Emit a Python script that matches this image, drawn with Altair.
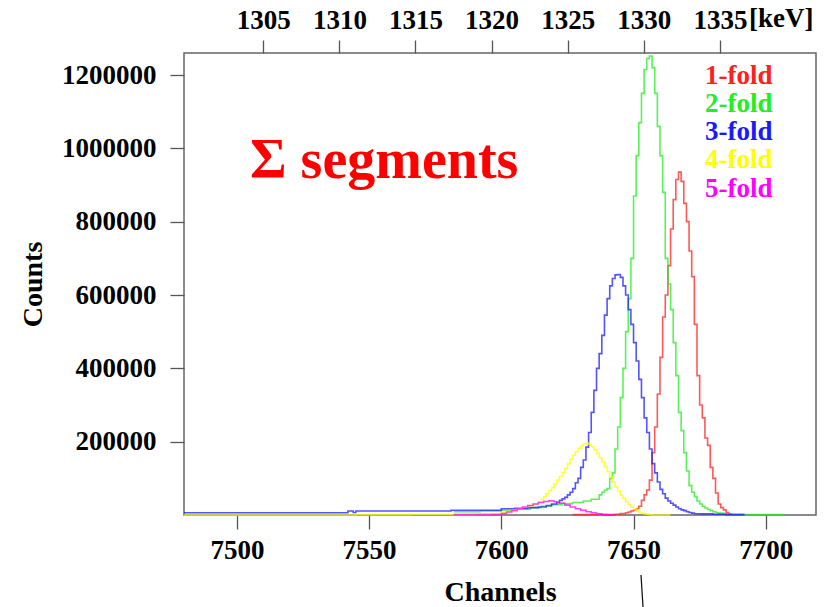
import altair as alt
import pandas as pd

# Summed-segment spectra, counts per channel for each fold multiplicity.
# Each series is listed as bin-start channel -> counts, with a new entry
# only where the count changes; the last entry closes the histogram.
ch_1 = [7627, 7643, 7645, 7647, 7648, 7649, 7650, 7651, 7652, 7653, 7654, 7655,
        7656, 7657, 7658, 7659, 7660, 7661, 7662, 7663, 7664, 7665, 7666, 7667,
        7668, 7669, 7670, 7671, 7672, 7673, 7674, 7675, 7676, 7677, 7678, 7679,
        7680, 7681, 7682, 7683, 7684, 7685, 7686, 7687]
n_1 = [1000, 2000, 4000, 6000, 8000, 11000, 14000, 17000, 24000, 40000, 55000, 68000,
       95000, 170000, 240000, 330000, 430000, 540000, 600000, 680000, 780000, 860000,
       915000, 935000, 910000, 850000, 800000, 720000, 650000, 520000, 380000, 300000,
       265000, 210000, 190000, 130000, 100000, 60000, 30000, 20000, 14000, 7000, 3000,
       3000]

ch_2 = [7582, 7592, 7600, 7606, 7611, 7615, 7619, 7623, 7627, 7631, 7634, 7637,
        7638, 7639, 7640, 7641, 7642, 7643, 7644, 7645, 7646, 7647, 7648, 7649,
        7650, 7651, 7652, 7653, 7654, 7655, 7656, 7657, 7658, 7659, 7660, 7661,
        7662, 7663, 7664, 7665, 7666, 7667, 7668, 7669, 7670, 7671, 7672, 7673,
        7674, 7675, 7676, 7677, 7678, 7679, 7680, 7681, 7682, 7684, 7687, 7691,
        7707]
n_2 = [9000, 11000, 13000, 16000, 20000, 24000, 28000, 31000, 34000, 38000, 43000,
       55000, 62000, 68000, 72000, 100000, 115000, 180000, 240000, 320000, 400000,
       500000, 590000, 700000, 870000, 980000, 1070000, 1150000, 1215000, 1245000,
       1252000, 1220000, 1150000, 1060000, 980000, 880000, 700000, 630000, 560000,
       470000, 380000, 280000, 230000, 170000, 120000, 80000, 62000, 50000, 38000,
       30000, 24000, 19000, 15000, 12000, 9000, 7000, 5000, 3500, 2000, 1000, 1000]

ch_3 = [7480, 7542, 7544, 7545, 7581, 7600, 7605, 7610, 7614, 7617, 7619, 7621,
        7622, 7623, 7624, 7625, 7626, 7627, 7628, 7629, 7630, 7631, 7632, 7633,
        7634, 7635, 7636, 7637, 7638, 7639, 7640, 7641, 7642, 7643, 7644, 7645,
        7646, 7647, 7648, 7649, 7650, 7651, 7652, 7653, 7654, 7655, 7656, 7657,
        7658, 7659, 7660, 7661, 7662, 7663, 7664, 7665, 7666, 7667, 7668, 7669,
        7670, 7671, 7672, 7673, 7675, 7680, 7685, 7692]
n_3 = [6000, 11000, 7000, 11000, 13000, 17000, 18000, 20000, 22000, 26000, 30000,
       34000, 40000, 44000, 48000, 55000, 62000, 72000, 88000, 100000, 130000, 150000,
       185000, 225000, 280000, 340000, 400000, 440000, 490000, 545000, 590000, 625000,
       645000, 655000, 656000, 648000, 625000, 600000, 560000, 520000, 470000, 420000,
       370000, 320000, 265000, 225000, 180000, 140000, 115000, 90000, 70000, 58000,
       46000, 38000, 32000, 27000, 22000, 17000, 14000, 12000, 9000, 7000, 5000, 3500,
       3000, 2000, 1000, 1000]

ch_4 = [7480, 7545, 7566, 7590, 7596, 7600, 7602, 7604, 7606, 7608, 7610, 7612,
        7614, 7615, 7616, 7617, 7618, 7619, 7620, 7621, 7622, 7623, 7624, 7625,
        7626, 7627, 7628, 7629, 7630, 7631, 7632, 7633, 7634, 7635, 7636, 7637,
        7638, 7639, 7640, 7641, 7642, 7643, 7644, 7645, 7646, 7647, 7648, 7649,
        7650, 7651, 7652, 7653, 7654, 7655, 7656, 7657, 7664]
n_4 = [0, 1000, 1500, 2500, 4000, 7000, 10000, 13000, 17000, 21000, 25000, 30000,
       36000, 42000, 50000, 58000, 66000, 75000, 85000, 95000, 105000, 116000, 127000,
       140000, 152000, 163000, 173000, 182000, 189000, 194000, 196000, 193000, 186000,
       178000, 168000, 157000, 145000, 132000, 118000, 104000, 90000, 77000, 65000,
       54000, 45000, 36000, 28000, 21000, 16000, 12000, 8000, 5000, 3000, 1500, 500,
       0, 0]

ch_5 = [7582, 7600, 7602, 7604, 7606, 7608, 7610, 7612, 7614, 7616, 7618, 7619,
        7620, 7621, 7622, 7624, 7626, 7628, 7630, 7632, 7634, 7636, 7638, 7640, 7643]
n_5 = [1500, 4000, 8000, 12000, 17000, 22000, 26000, 30000, 34000, 37000, 39000,
       38000, 36000, 34000, 32000, 27000, 22000, 17000, 13000, 9000, 6000, 3000,
       1000, 0, 0]

folds = ["1-fold", "2-fold", "3-fold", "4-fold", "5-fold"]
fold_colors = ["#ff2020", "#22ee22", "#1a1aff", "#ffff00", "#ff00ff"]

# Channel window and energy calibration used for the top axis
ch_range = [7480, 7719]
chan_ticks = [7500, 7550, 7600, 7650, 7700]
kev_ticks = [1305, 1310, 1315, 1320, 1325, 1330, 1335]
cal_ch0, cal_kev0, ch_per_kev = 7653.9, 1330.0, 5.757
count_ticks = [200000, 400000, 600000, 800000, 1000000, 1200000]

series = [(ch_1, n_1), (ch_2, n_2), (ch_3, n_3), (ch_4, n_4), (ch_5, n_5)]
frames = []
for fold, (chs, ns) in zip(folds, series):
    frames.append(pd.DataFrame({"channel": chs, "counts": ns, "fold": fold}))
spectra = pd.concat(frames, ignore_index=True)

kev_domain = [cal_kev0 + (c - cal_ch0) / ch_per_kev for c in ch_range]

FONT = "Liberation Serif"
W, H = 632, 462

color = alt.Color("fold:N", scale=alt.Scale(domain=folds, range=fold_colors), legend=None)

lines = alt.Chart(spectra).mark_line(
    interpolate="step-after", strokeWidth=1.6, opacity=0.75
).encode(
    x=alt.X("channel:Q",
            scale=alt.Scale(domain=ch_range, nice=False, zero=False),
            axis=alt.Axis(values=chan_ticks, format="d", title="Channels",
                          titleY=77, titleBaseline="middle", labelPadding=8)),
    y=alt.Y("counts:Q",
            scale=alt.Scale(domain=[0, 1260000], nice=False),
            axis=alt.Axis(values=count_ticks, format="d", title="Counts",
                          titleX=-151, titleY=H / 2, titleBaseline="middle",
                          labelPadding=14)),
    color=color,
    detail="fold:N",
)

# Energy axis along the top
kev_scale = alt.Scale(domain=kev_domain, nice=False, zero=False)
top_axis_df = pd.DataFrame({"kev": kev_ticks})
top_axis = alt.Chart(top_axis_df).mark_point(opacity=0).encode(
    x=alt.X("kev:Q", scale=kev_scale,
            axis=alt.Axis(orient="top", values=kev_ticks, format="d", title=None,
                          labelPadding=6, tickSize=13)),
)
unit_df = pd.DataFrame({"kev": [kev_ticks[-1]], "txt": ["[keV]"]})
unit_text = alt.Chart(unit_df).mark_text(
    align="left", baseline="alphabetic", dx=29, font=FONT, fontWeight="bold",
    fontSize=27, color="black"
).encode(
    x=alt.X("kev:Q", scale=kev_scale, axis=None),
    y=alt.value(-26),
    text="txt:N",
)

# Multiplicity labels in the upper right corner
legend_df = pd.DataFrame({"fold": folds, "row": list(range(len(folds)))})
legend_text = alt.Chart(legend_df).mark_text(
    align="left", baseline="alphabetic", font=FONT, fontWeight="bold", fontSize=27
).encode(
    x=alt.value(521),
    y=alt.Y("row:O", scale=alt.Scale(type="point", range=[31, 143.5], padding=0),
            axis=None),
    text="fold:N",
    color=color,
)

title_df = pd.DataFrame({"txt": ["\u03a3 segments"]})
title_text = alt.Chart(title_df).mark_text(
    align="left", baseline="alphabetic", font=FONT, fontWeight="bold", fontSize=56,
    color="#ff0000"
).encode(x=alt.value(66), y=alt.value(125), text="txt:N")

pen_mark = alt.Chart(pd.DataFrame({"k": [0]})).mark_rule(
    color="#111111", strokeWidth=1.3
).encode(x=alt.value(457), x2=alt.value(459), y=alt.value(522), y2=alt.value(554))

chart = alt.layer(
    lines, top_axis, unit_text, legend_text, title_text, pen_mark
).resolve_scale(
    x="independent", y="independent"
).properties(
    width=W, height=H,
    background="white",
    autosize=alt.AutoSizeParams(type="none"),
    padding={"left": 184, "top": 53, "right": 16, "bottom": 92},
).configure_view(
    stroke="#666666", strokeWidth=1.5
).configure_axis(
    domain=False, grid=False,
    tickColor="#555555", tickWidth=1.3, tickSize=14,
    labelFont=FONT, labelFontWeight="bold", labelFontSize=27, labelColor="black",
    titleFont=FONT, titleFontWeight="bold", titleFontSize=28, titleColor="black",
)

chart.save("out.html", embed_options={"renderer": "svg", "actions": False})
